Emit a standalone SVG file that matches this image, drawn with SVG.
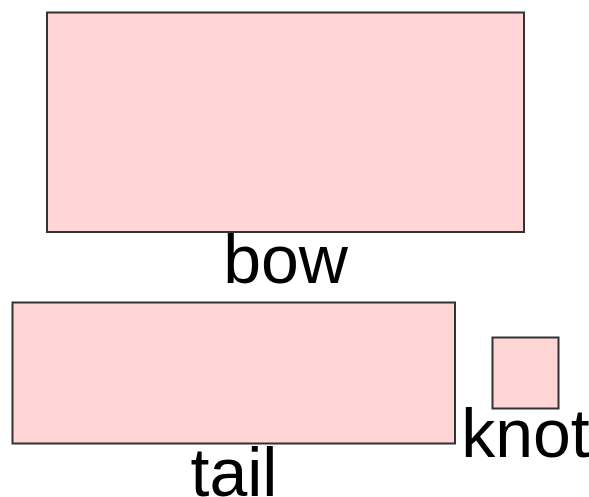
<svg xmlns="http://www.w3.org/2000/svg" width="589" height="497" viewBox="0 0 589 497">
<style>
.box{fill:#ffd5d5;stroke:#333;stroke-width:2}
.lbl{font-family:"Liberation Sans","DejaVu Sans",sans-serif;font-size:68px;fill:#000;text-anchor:middle}
</style>
<rect width="589" height="497" fill="#fff"/>
<g id="bow">
<rect class="box" x="47" y="12.5" width="477" height="219.5"/>
<text class="lbl" x="285.5" y="283">bow</text>
</g>
<g id="tail">
<rect class="box" x="12.5" y="302.5" width="442.5" height="141"/>
<text class="lbl" x="234" y="496">tail</text>
</g>
<g id="knot">
<rect class="box" x="492.5" y="337.5" width="66" height="71"/>
<text class="lbl" x="525.5" y="457">knot</text>
</g>
<g id="connectors"/>
</svg>
